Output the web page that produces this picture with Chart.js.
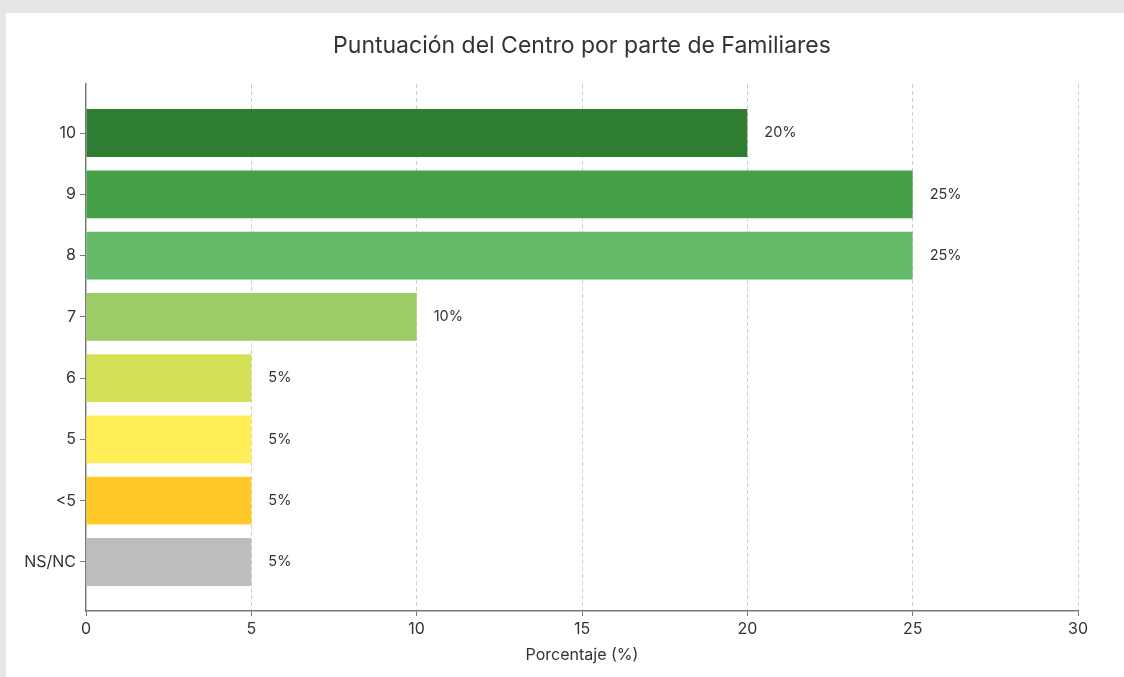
<!DOCTYPE html>
<html>
<head>
<meta charset="utf-8">
<script src="https://cdn.jsdelivr.net/npm/chart.js@4.4.1/dist/chart.umd.min.js"></script>
<style>
  html, body { margin: 0; padding: 0; background: #e6e6e6; width: 1124px; height: 677px; overflow: hidden; }
  #card { position: absolute; left: 6px; top: 13px; width: 1118px; height: 664px; background: #fff; }
</style>
</head>
<body>
<div id="card"><canvas id="score-chart" width="1118" height="664"></canvas></div>
<script>
  const categories = ['10', '9', '8', '7', '6', '5', '<5', 'NS/NC'];
  const percentages = [20, 25, 25, 10, 5, 5, 5, 5];
  const barColors = ['#2e7d32', '#43a047', '#66bb6a', '#9ccc65', '#d4e157', '#ffee58', '#ffca28', '#bdbdbd'];
  const xTicks = [0, 5, 10, 15, 20, 25, 30];

  const FONT = 'Inter, "Open Sans", sans-serif';
  const TEXT = '#333333';
  const SPINE = '#7a7a7a';

  // title drawn over the plot area centre, plus value labels at bar ends
  const extras = {
    id: 'extras',
    afterDatasetsDraw(chart) {
      const ctx = chart.ctx;
      const area = chart.chartArea;
      ctx.save();
      ctx.fillStyle = TEXT;
      ctx.font = '14.5px ' + FONT;
      ctx.textAlign = 'left';
      ctx.textBaseline = 'middle';
      chart.getDatasetMeta(0).data.forEach((bar, i) => {
        ctx.fillText(percentages[i] + '%', bar.x + 17, bar.y);
      });
      ctx.font = '23px ' + FONT;
      ctx.textAlign = 'center';
      ctx.fillText('Puntuación del Centro por parte de Familiares', (area.left + area.right) / 2, 33);
      ctx.restore();
    },
  };

  new Chart(document.getElementById('score-chart'), {
    type: 'bar',
    data: {
      datasets: [
        {
          data: percentages.map((v, i) => ({ x: v, y: i })),
          backgroundColor: barColors,
          categoryPercentage: 1,
          barPercentage: 0.78,
        },
      ],
    },
    options: {
      indexAxis: 'y',
      responsive: false,
      animation: false,
      layout: { padding: { top: 71, right: 46, left: 0, bottom: 12 } },
      plugins: {
        legend: { display: false },
        tooltip: { enabled: false },
      },
      scales: {
        x: {
          type: 'linear',
          min: 0,
          max: 30,
          afterBuildTicks: (scale) => { scale.ticks = xTicks.map((v) => ({ value: v })); },
          afterFit: (scale) => { scale.height = 54; },
          border: { display: true, color: SPINE, width: 1.5, dash: [4, 3] },
          grid: {
            color: (c) => (c.tick && c.tick.value === 0 ? 'rgba(0,0,0,0)' : '#cfcfcf'),
            tickColor: SPINE,
            tickLength: 5,
            tickBorderDash: [],
          },
          ticks: { color: TEXT, font: { family: FONT, size: 16 }, padding: 4 },
          title: {
            display: true,
            text: 'Porcentaje (%)',
            color: TEXT,
            font: { family: FONT, size: 16 },
            padding: { top: 0, bottom: 0 },
          },
        },
        y: {
          type: 'linear',
          reverse: true,
          offset: false,
          min: -0.8,
          max: 7.8,
          afterBuildTicks: (scale) => { scale.ticks = categories.map((c, i) => ({ value: i })); },
          afterFit: (scale) => { scale.width = 80; },
          border: { display: true, color: SPINE, width: 1.5 },
          grid: { offset: false, drawOnChartArea: false, tickColor: SPINE, tickLength: 6 },
          ticks: {
            color: TEXT,
            font: { family: FONT, size: 16 },
            padding: 4,
            callback: (v) => categories[v],
          },
        },
      },
    },
    plugins: [extras],
  });
</script>
</body>
</html>
